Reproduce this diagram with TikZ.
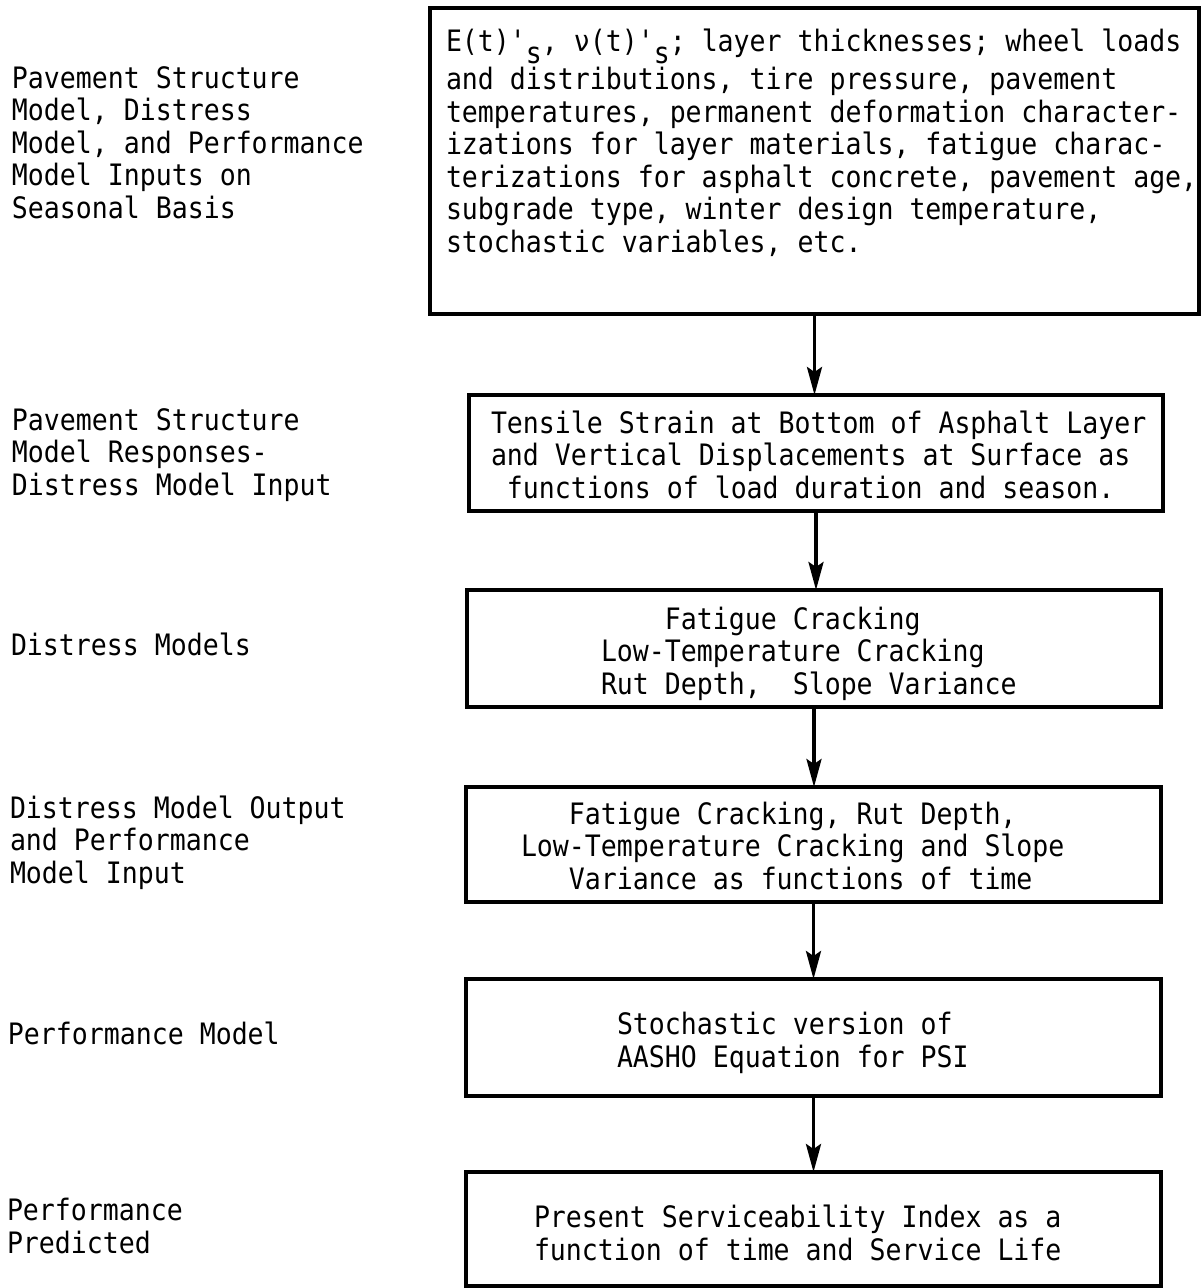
\documentclass[tikz,border=0pt]{standalone}
\usepackage{fontspec}
\setmonofont{DejaVu Sans Mono}[FakeStretch=0.9]
\usetikzlibrary{arrows.meta}
\begin{document}
\begin{tikzpicture}[x=1pt,y=-1pt,
  box/.style={draw, line width=3.5pt, inner sep=0pt, outer sep=0pt},
  txt/.style={anchor=base west, inner sep=0pt, outer sep=0pt, align=left,
    font=\ttfamily\fontsize{29.5pt}{32.5pt}\selectfont},
  arr/.style={line width=3.5pt, -{Stealth[length=28pt,width=15pt,inset=5pt]}}]
\useasboundingbox (0,0) rectangle (1204,1288);
% boxes
\node[box, minimum width=769pt, minimum height=306pt] (b1) at (814.5,161) {};
\node[box, minimum width=694pt, minimum height=116pt] (b2) at (816,453) {};
\node[box, minimum width=694pt, minimum height=117pt] (b3) at (814,648.5) {};
\node[box, minimum width=695pt, minimum height=115pt] (b4) at (813.5,844.5) {};
\node[box, minimum width=695pt, minimum height=117pt] (b5) at (813.5,1037.5) {};
\node[box, minimum width=695pt, minimum height=114pt] (b6) at (813.5,1229) {};
% box texts (anchored at the baseline of the last line)
\node[txt] (t1) at (446,252) {E(t)'\smash{\raisebox{-12pt}{s}}, ν(t)'\smash{\raisebox{-12pt}{s}}; layer thicknesses; wheel loads\\[5.5pt]
and distributions, tire pressure, pavement\\
temperatures, permanent deformation character-\\
izations for layer materials, fatigue charac-\\
terizations for asphalt concrete, pavement age,\\
subgrade type, winter design temperature,\\
stochastic variables, etc.};
\node[txt] (t2) at (491,498) {Tensile Strain at Bottom of Asphalt Layer\\
and Vertical Displacements at Surface as\\
~functions of load duration and season.};
\node[txt] (t3) at (601,694) {~~~~Fatigue Cracking\\
Low-Temperature Cracking\\
Rut Depth,~ Slope Variance};
\node[txt] (t4) at (521,889) {~~~Fatigue Cracking, Rut Depth,\\
Low-Temperature Cracking and Slope\\
~~~Variance as functions of time};
\node[txt] (t5) at (617,1067) {Stochastic version of\\
AASHO Equation for PSI};
\node[txt] (t6) at (534,1260) {Present Serviceability Index as a\\
function of time and Service Life};
% left labels
\node[txt] (l1) at (12,218) {Pavement Structure\\
Model, Distress\\
Model, and Performance\\
Model Inputs on\\
Seasonal Basis};
\node[txt] (l2) at (12,495) {Pavement Structure\\
Model Responses-\\
Distress Model Input};
\node[txt] (l3) at (11,655) {Distress Models};
\node[txt] (l4) at (10,883) {Distress Model Output\\
and Performance\\
Model Input};
\node[txt] (l5) at (8,1044) {Performance Model};
\node[txt] (l6) at (7,1253) {Performance\\
Predicted};
% arrows
\draw[arr] (b1.south) -- (b1.south |- b2.north);
\draw[arr] (b2.south) -- (b2.south |- b3.north);
\draw[arr] (b3.south) -- (b3.south |- b4.north);
\draw[arr] (b4.south) -- (b4.south |- b5.north);
\draw[arr] (b5.south) -- (b5.south |- b6.north);
\end{tikzpicture}
\end{document}
